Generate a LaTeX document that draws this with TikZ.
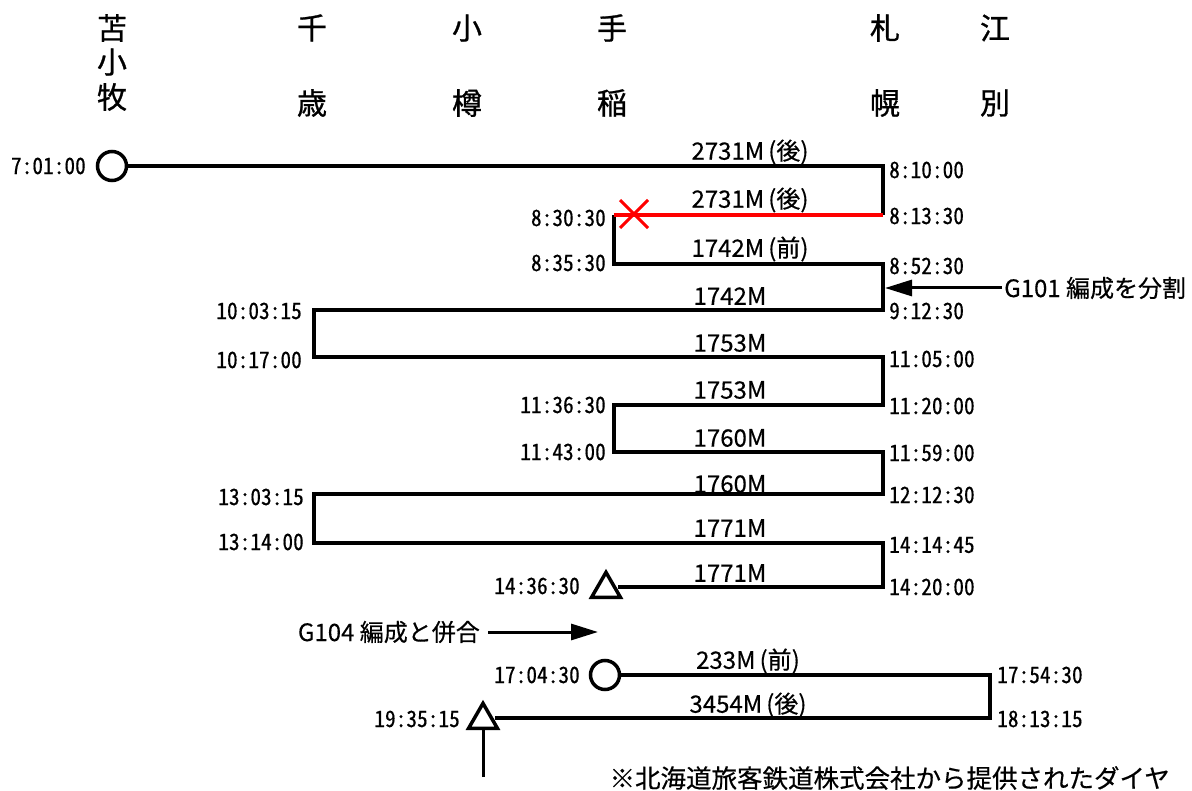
\documentclass[tikz,border=0pt]{standalone}
\usepackage{fontspec}
\setmainfont{Noto Sans CJK JP}[FakeBold=0.4]
\newfontfamily\halfw{Noto Sans CJK JP}[RawFeature=+hwid, FakeBold=0.4]
\newfontfamily\heavyf{Noto Sans CJK JP}[FakeBold=0.9]
\usetikzlibrary{arrows.meta,shapes.geometric,shapes.misc}
\begin{document}
\begin{tikzpicture}[x=1pt,y=-1pt,
  track/.style={line width=3.5pt},
  redtrack/.style={line width=3.5pt, red},
  tm/.style={font=\halfw\fontsize{22.5}{24}\selectfont, inner sep=0pt, xscale=0.95},
  tl/.style={tm, anchor=east},
  tr/.style={tm, anchor=west},
  train/.style={font=\fontsize{24}{26}\selectfont, inner sep=0pt},
  stn/.style={font=\heavyf\fontsize{30}{32}\selectfont, inner sep=0pt},
  note/.style={font=\fontsize{24}{26}\selectfont, inner sep=0pt},
  startmark/.style={circle, draw, line width=3.5pt, minimum size=29pt, inner sep=0pt},
  endmark/.style={isosceles triangle, isosceles triangle apex angle=60, shape border rotate=90, draw, line width=3.5pt, minimum height=25pt, inner sep=0pt},
  ptr/.style={line width=3pt, -{Triangle[length=27pt,width=16pt]}}
]
\useasboundingbox (0,0) rectangle (1192,791);

% station headers
\node[stn] (st1a) at (112,28) {苫};
\node[stn] (st1b) at (112,62) {小};
\node[stn] (st1c) at (112,97) {牧};
\node[stn] (st2a) at (312,28) {千};
\node[stn] (st2b) at (312,103) {歳};
\node[stn] (st3a) at (467,28) {小};
\node[stn] (st3b) at (467,103) {樽};
\node[stn] (st4a) at (612,28) {手};
\node[stn] (st4b) at (612,103) {稲};
\node[stn] (st5a) at (885,28) {札};
\node[stn] (st5b) at (885,103) {幌};
\node[stn] (st6a) at (995,28) {江};
\node[stn] (st6b) at (995,103) {別};

% corner coordinates
\coordinate (r1R) at (883,166);
\coordinate (r2R) at (883,215);
\coordinate (r2L) at (614,215);
\coordinate (r3L) at (614,264);
\coordinate (r3R) at (883,264);
\coordinate (r4R) at (883,310);
\coordinate (r4L) at (314,310);
\coordinate (r5L) at (314,357);
\coordinate (r5R) at (883,357);
\coordinate (r6R) at (883,405);
\coordinate (r6L) at (614,405);
\coordinate (r7L) at (614,452);
\coordinate (r7R) at (883,452);
\coordinate (r8R) at (883,494);
\coordinate (r8L) at (314,494);
\coordinate (r9L) at (314,543);
\coordinate (r9R) at (883,543);
\coordinate (r10R) at (883,587);
\coordinate (r11R) at (990,675);
\coordinate (r12R) at (990,718);

% start / end marks
\node[startmark] (s1) at (112,166) {};
\node[endmark] (e1) at (606,589) {};
\node[startmark] (s2) at (605,675) {};
\node[endmark] (e2) at (483,720) {};

% first block
\draw[track] (s1.east) -- (r1R) -- (r2R);
\draw[track] (r2L) -- (r3L) -- (r3R) -- (r4R) -- (r4L) -- (r5L) -- (r5R) -- (r6R) -- (r6L) -- (r7L) -- (r7R) -- (r8R) -- (r8L) -- (r9L) -- (r9R) -- (r10R) -- (e1.east |- r10R);
\draw[redtrack] (r2R) -- (r2L);
\node[draw=red, line width=3pt, cross out, minimum size=25pt, inner sep=0pt] (x1) at (634,214) {};

% second block
\draw[track] (s2.east) -- (r11R) -- (r12R) -- (e2.east |- r12R);

% annotation arrows
\node[note, anchor=west] (g101) at (1004,288) {G101 編成を分割};
\coordinate (g101tip) at (885,288);
\draw[ptr] (g101.west) ++(-2,0) coordinate (g101s) -- (g101tip);
\node[note, anchor=east] (g104) at (480,632) {G104 編成と併合};
\coordinate (g104tip) at (598,632);
\draw[ptr] (g104.east) ++(8,0) coordinate (g104s) -- (g104tip);
\coordinate (upstart) at (483,777);
\draw[line width=3pt] (upstart) -- (e2.south);

% train labels
\node[train] (t1) at (750,152) {2731M\,(後)};
\node[train] (t2) at (750,200) {2731M\,(後)};
\node[train] (t3) at (750,249) {1742M\,(前)};
\node[train] (t4) at (730,296) {1742M};
\node[train] (t5) at (730,343) {1753M};
\node[train] (t6) at (730,390) {1753M};
\node[train] (t7) at (730,438) {1760M};
\node[train] (t8) at (730,484) {1760M};
\node[train] (t9) at (730,528) {1771M};
\node[train] (t10) at (730,573) {1771M};
\node[train] (t11) at (748,661) {233M\,(前)};
\node[train] (t12) at (748,705) {3454M\,(後)};

% right times
\node[tr] at (889,170) {8:10:00};
\node[tr] at (889,216) {8:13:30};
\node[tr] at (889,266) {8:52:30};
\node[tr] at (889,311) {9:12:30};
\node[tr] at (889,359) {11:05:00};
\node[tr] at (889,406) {11:20:00};
\node[tr] at (889,453) {11:59:00};
\node[tr] at (889,495) {12:12:30};
\node[tr] at (889,545) {14:14:45};
\node[tr] at (889,587) {14:20:00};
\node[tr] at (997,675) {17:54:30};
\node[tr] at (997,719) {18:13:15};

% left times
\node[tl] at (86,166) {7:01:00};
\node[tl] at (606,218) {8:30:30};
\node[tl] at (606,263) {8:35:30};
\node[tl] at (302,311) {10:03:15};
\node[tl] at (302,360) {10:17:00};
\node[tl] at (606,405) {11:36:30};
\node[tl] at (606,452) {11:43:00};
\node[tl] at (304,497) {13:03:15};
\node[tl] at (304,542) {13:14:00};
\node[tl] at (580,586) {14:36:30};
\node[tl] at (580,675) {17:04:30};
\node[tl] at (460,719) {19:35:15};

% footnote
\node[note, font=\fontsize{25.5}{28}\selectfont, anchor=east] (fn) at (1170,778) {※北海道旅客鉄道株式会社から提供されたダイヤ};
\end{tikzpicture}
\end{document}
